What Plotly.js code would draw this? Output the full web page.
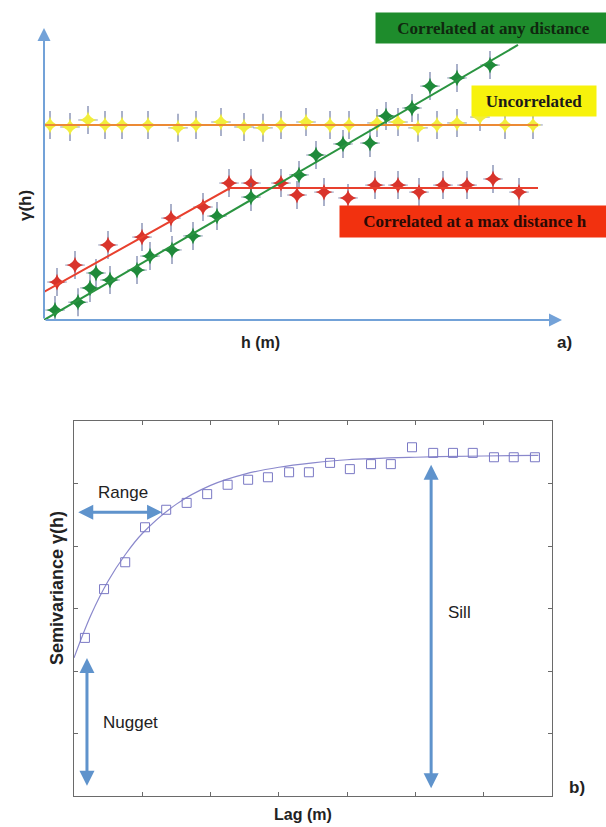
<!DOCTYPE html>
<html>
<head>
<meta charset="utf-8">
<script src="https://cdn.plot.ly/plotly-3.0.1.min.js"></script>
<style>html,body{margin:0;padding:0;background:#fff;}#chart{width:606px;height:827px;}</style>
</head>
<body>
<div id="chart"></div>
<script>
// ---------- Panel a) : schematic variograms ----------
const uncorrX = [0.3, 1.3, 2.2, 3.05, 3.9, 5.2, 6.7, 7.6, 8.85, 10.0, 10.95, 11.85, 13.1, 14.3, 15.25, 16.65, 17.7, 18.7, 19.65, 20.65, 21.8, 23.05, 24.45];
const uncorrY = [6.68, 6.61, 6.85, 6.68, 6.68, 6.68, 6.58, 6.68, 6.78, 6.61, 6.58, 6.68, 6.78, 6.68, 6.68, 6.75, 6.78, 6.58, 6.68, 6.75, 6.95, 6.68, 6.68];
const uncorrLineX = [0, 24.7];
const uncorrLineY = [6.68, 6.68];

const anyX = [0.55, 1.7, 2.3, 2.6, 3.3, 4.65, 5.3, 6.4, 7.45, 8.65, 10.35, 12.75, 13.6, 14.95, 16.3, 17.1, 18.4, 19.3, 20.65, 22.3];
const anyY = [0.34, 0.61, 1.10, 1.61, 1.37, 1.71, 2.19, 2.40, 2.88, 3.56, 4.21, 4.97, 5.65, 6.03, 6.06, 6.99, 7.26, 8.01, 8.29, 8.73];
const anyLineX = [0, 23.7];
const anyLineY = [0, 9.42];

const maxX = [0.65, 1.55, 3.2, 4.9, 6.35, 7.95, 9.25, 10.35, 11.85, 12.65, 14.0, 15.2, 16.55, 17.7, 18.75, 19.95, 21.15, 22.45, 23.75];
const maxY = [1.30, 1.88, 2.57, 2.84, 3.49, 3.87, 4.69, 4.69, 4.69, 4.28, 4.38, 4.18, 4.62, 4.62, 4.38, 4.62, 4.62, 4.83, 4.38];
const maxLineX = [0, 9.3, 24.7];
const maxLineY = [0.96, 4.52, 4.52];

// ---------- Panel b) : experimental semivariogram ----------
const lag = [0.16, 0.44, 0.75, 1.04, 1.35, 1.65, 1.95, 2.25, 2.55, 2.84, 3.15, 3.44, 3.75, 4.04, 4.35, 4.64, 4.95, 5.26, 5.55, 5.84, 6.15, 6.44, 6.75];
const semivar = [2.53, 3.31, 3.74, 4.30, 4.58, 4.69, 4.83, 4.98, 5.06, 5.10, 5.18, 5.18, 5.33, 5.23, 5.31, 5.31, 5.58, 5.49, 5.49, 5.49, 5.42, 5.42, 5.42];
const fitLag = [0, 0.25, 0.5, 0.75, 1.0, 1.5, 2.0, 2.5, 3.0, 3.5, 4.0, 5.0, 6.0, 6.8];
const fitSemivar = [2.21, 2.90, 3.44, 3.86, 4.20, 4.67, 4.97, 5.15, 5.26, 5.33, 5.38, 5.42, 5.44, 5.45];
const nugget = 2.21;
const sill = 5.3;
const rangeLag = 1.29;

const armColor = 'rgba(85,100,150,0.5)';
function starTraces(x, y, fill) {
  return [
    {x: x, y: y, xaxis: 'x2', yaxis: 'y2', mode: 'markers', type: 'scatter', hoverinfo: 'skip',
     marker: {symbol: 'line-ns', size: 20, line: {width: 2, color: armColor}}},
    {x: x, y: y, xaxis: 'x2', yaxis: 'y2', mode: 'markers', type: 'scatter', hoverinfo: 'skip',
     marker: {symbol: 'line-ew', size: 14, line: {width: 1.3, color: armColor}}},
    {x: x, y: y, xaxis: 'x2', yaxis: 'y2', mode: 'markers', type: 'scatter', hoverinfo: 'skip',
     marker: {symbol: 'star-diamond', size: 12, color: fill, line: {width: 0}}}
  ];
}

const data = [].concat(
  starTraces(uncorrX, uncorrY, '#f2ee3c'),
  starTraces(maxX, maxY, '#d9342b'),
  starTraces(anyX, anyY, '#1f8a3a'),
  [
    {x: uncorrLineX, y: uncorrLineY, xaxis: 'x2', yaxis: 'y2', mode: 'lines', type: 'scatter', line: {color: '#ec8a34', width: 2}},
    {x: maxLineX, y: maxLineY, xaxis: 'x2', yaxis: 'y2', mode: 'lines', type: 'scatter', line: {color: '#e8402e', width: 2}},
    {x: anyLineX, y: anyLineY, xaxis: 'x2', yaxis: 'y2', mode: 'lines', type: 'scatter', line: {color: '#2a9440', width: 2}},
    {x: fitLag, y: fitSemivar, xaxis: 'x', yaxis: 'y', mode: 'lines', type: 'scatter', line: {color: '#8a88cc', width: 1.2, shape: 'spline'}},
    {x: lag, y: semivar, xaxis: 'x', yaxis: 'y', mode: 'markers', type: 'scatter',
     marker: {symbol: 'square-open', size: 9, color: '#7a78c4', line: {width: 1}}}
  ]
);

const W = 606, H = 827;
const px = v => v / W;
const py = v => 1 - v / H;
const axisBlue = '#73a2d8';
const arrowBlue = '#5f93cc';
const C = {xanchor: 'center', yanchor: 'middle', showarrow: false};

const layout = {
  width: W, height: H,
  margin: {l: 0, r: 0, t: 0, b: 0},
  paper_bgcolor: '#ffffff', plot_bgcolor: 'rgba(0,0,0,0)',
  showlegend: false,
  font: {family: 'Liberation Sans, Arial, sans-serif', color: '#222'},
  xaxis2: {domain: [px(44), px(562)], range: [0, 25.9], anchor: 'y2', visible: false, fixedrange: true},
  yaxis2: {domain: [py(320), py(28)], range: [0, 10], anchor: 'x2', visible: false, fixedrange: true},
  xaxis: {domain: [px(74), px(552)], range: [0, 7], anchor: 'y', showline: true, mirror: 'ticks', linecolor: '#6a6a6a', linewidth: 1,
          ticks: 'inside', ticklen: 4, tickcolor: '#6a6a6a', dtick: 1, showticklabels: false, showgrid: false, zeroline: false},
  yaxis: {domain: [py(796), py(421)], range: [0, 6], anchor: 'x', showline: true, mirror: 'ticks', linecolor: '#6a6a6a', linewidth: 1,
          ticks: 'inside', ticklen: 4, tickcolor: '#6a6a6a', dtick: 1, showticklabels: false, showgrid: false, zeroline: false},
  annotations: [
    // panel a axes (arrows)
    {xref: 'paper', yref: 'paper', x: px(44), y: py(28), ax: 0, ay: 292, showarrow: true, arrowhead: 2, arrowsize: 1.3, arrowwidth: 2, arrowcolor: axisBlue, text: ''},
    {xref: 'paper', yref: 'paper', x: px(562), y: py(320), ax: -518, ay: 0, showarrow: true, arrowhead: 2, arrowsize: 1.3, arrowwidth: 2, arrowcolor: axisBlue, text: ''},
    Object.assign({xref: 'paper', yref: 'paper', x: px(25), y: py(206), text: '<b>γ(h)</b>', textangle: -90, font: {size: 17, color: '#222'}}, C),
    Object.assign({xref: 'paper', yref: 'paper', x: px(260), y: py(342), text: '<b>h (m)</b>', font: {size: 16, color: '#222'}}, C),
    Object.assign({xref: 'paper', yref: 'paper', x: px(564), y: py(342), text: '<b>a)</b>', font: {size: 17, color: '#222'}}, C),
    // labels
    {xref: 'paper', yref: 'paper', x: px(375), y: py(12), xanchor: 'left', yanchor: 'top', width: 233, height: 28, showarrow: false,
     text: '<b>Correlated at any distance</b>', bgcolor: '#1e8c2c', font: {family: 'Liberation Serif, Times New Roman, serif', size: 17, color: '#10280f'}},
    {xref: 'paper', yref: 'paper', x: px(471), y: py(85), xanchor: 'left', yanchor: 'top', width: 122, height: 28, showarrow: false,
     text: '<b>Uncorrelated</b>', bgcolor: '#f7f20c', font: {family: 'Liberation Serif, Times New Roman, serif', size: 17, color: '#1a1a1a'}},
    {xref: 'paper', yref: 'paper', x: px(339), y: py(205), xanchor: 'left', yanchor: 'top', width: 268, height: 29, showarrow: false,
     text: '<b>Correlated at a max distance h</b>', bgcolor: '#f2310f', font: {family: 'Liberation Serif, Times New Roman, serif', size: 17, color: '#2a0a05'}},
    // panel b annotations
    {xref: 'x', yref: 'y', axref: 'x', ayref: 'y', x: rangeLag, y: 4.54, ax: 0.04, ay: 4.54, text: '', showarrow: true,
     arrowside: 'end+start', arrowhead: 2, startarrowhead: 2, arrowsize: 1, startarrowsize: 1, arrowwidth: 3, arrowcolor: arrowBlue},
    {xref: 'x', yref: 'y', axref: 'x', ayref: 'y', x: 0.19, y: nugget, ax: 0.19, ay: 0.14, text: '', showarrow: true,
     arrowside: 'end+start', arrowhead: 2, startarrowhead: 2, arrowsize: 1, startarrowsize: 1, arrowwidth: 3, arrowcolor: arrowBlue},
    {xref: 'x', yref: 'y', axref: 'x', ayref: 'y', x: 5.23, y: sill, ax: 5.23, ay: 0.1, text: '', showarrow: true,
     arrowside: 'end+start', arrowhead: 2, startarrowhead: 2, arrowsize: 1, startarrowsize: 1, arrowwidth: 3, arrowcolor: arrowBlue},
    Object.assign({xref: 'x', yref: 'y', x: 0.72, y: 4.85, text: 'Range', font: {size: 17, color: '#222'}}, C),
    Object.assign({xref: 'x', yref: 'y', x: 0.83, y: 1.17, text: 'Nugget', font: {size: 17, color: '#222'}}, C),
    Object.assign({xref: 'x', yref: 'y', x: 5.64, y: 2.93, text: 'Sill', font: {size: 17, color: '#222'}}, C),
    Object.assign({xref: 'paper', yref: 'paper', x: px(57), y: py(588), text: '<b>Semivariance γ(h)</b>', textangle: -90, font: {size: 18, color: '#222'}}, C),
    Object.assign({xref: 'paper', yref: 'paper', x: px(303), y: py(814), text: '<b>Lag (m)</b>', font: {size: 16, color: '#222'}}, C),
    Object.assign({xref: 'paper', yref: 'paper', x: px(577), y: py(787), text: '<b>b)</b>', font: {size: 17, color: '#222'}}, C)
  ]
};

Plotly.newPlot('chart', data, layout, {displayModeBar: false, staticPlot: true});
</script>
</body>
</html>
